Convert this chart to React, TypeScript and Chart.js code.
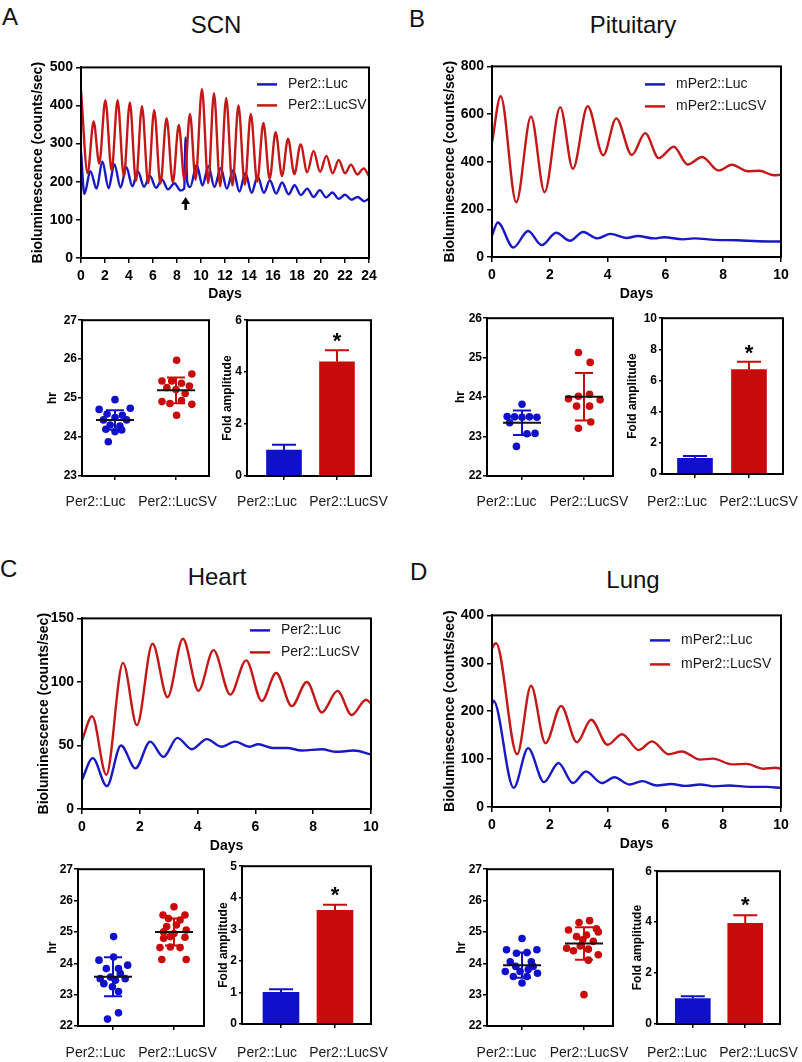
import React, { useEffect, useRef } from "react";
import { Chart, registerables } from "chart.js";
Chart.register(...registerables);

const FONT = "'Liberation Sans', Arial, Helvetica, sans-serif";
const BLUE = "#1818c4";
const RED = "#c41818";
const BLUE_FILL = "#1010cc";
const RED_FILL = "#c80a0a";

// ---------------- DATA ----------------
const groupLabels = ["Per2::Luc", "Per2::LucSV"];

// A - SCN bioluminescence
const scnLucDays = [0, 0.28, 0.78, 1.3, 1.78, 2.3, 2.78, 3.3, 3.78, 4.28, 4.75, 5.25, 5.75, 6.25, 6.75, 7.25, 7.78, 8.3, 8.6, 8.72, 8.85, 9.1, 9.64, 10.12, 10.62, 11.12, 11.65, 12.15, 12.68, 13.2, 13.7, 14.22, 14.72, 15.24, 15.74, 16.26, 16.76, 17.3, 17.8, 18.32, 18.85, 19.38, 19.9, 20.42, 20.95, 21.48, 22.0, 22.55, 23.05, 23.6, 24];
const scnLuc = [280, 168, 228, 182, 253, 183, 246, 185, 238, 188, 227, 187, 215, 184, 206, 180, 196, 177, 182, 316, 200, 186, 245, 190, 241, 186, 236, 182, 230, 174, 223, 171, 214, 171, 204, 169, 198, 167, 191, 165, 182, 160, 178, 159, 172, 155, 166, 153, 160, 149, 156];
const scnLucSVDays = [0, 0.55, 1.05, 1.52, 2.03, 2.55, 3.05, 3.57, 4.07, 4.58, 5.08, 5.6, 6.1, 6.62, 7.13, 7.65, 8.15, 8.62, 9.08, 9.55, 10.08, 10.6, 11.08, 11.6, 12.1, 12.62, 13.12, 13.65, 14.15, 14.68, 15.2, 15.72, 16.22, 16.75, 17.25, 17.78, 18.3, 18.85, 19.38, 19.92, 20.45, 20.97, 21.48, 22.0, 22.5, 23.02, 23.55, 24];
const scnLucSV = [440, 222, 358, 248, 414, 230, 414, 214, 408, 202, 398, 196, 388, 195, 367, 198, 349, 205, 378, 205, 443, 196, 432, 188, 420, 190, 400, 192, 378, 200, 354, 208, 330, 215, 313, 220, 298, 225, 281, 226, 268, 222, 257, 222, 245, 219, 235, 215];
const scnArrowDay = 8.72;
const scnArrowTip = 160;
const scnArrowTail = 126;

const scnPeriodLuc = [24.96, 24.71, 24.74, 24.59, 24.56, 24.44, 24.5, 24.44, 24.31, 24.28, 24.2, 24.18, 23.88, 24.14];
const scnPeriodLucJitter = [0, -0.26, 0.25, -0.13, 0.12, -0.19, 0, 0.19, -0.08, 0.08, -0.15, 0.11, -0.11, 0];
const scnPeriodLucSV = [25.97, 25.62, 25.44, 25.44, 25.38, 25.31, 25.27, 25.22, 25.12, 24.91, 24.86, 24.94, 24.84, 24.56];
const scnPeriodLucSVJitter = [0.01, 0.26, -0.23, -0.07, 0.09, 0.22, -0.15, 0, 0.15, -0.23, -0.1, 0.09, 0.26, 0.01];
const scnPeriodMean = [24.44, 25.2];
const scnPeriodSD = [0.25, 0.33];

const scnAmp = [1.0, 4.4];
const scnAmpErr = [0.2, 0.44];
const scnStar = 5.4;

// B - Pituitary
const pitLucDays = [0, 0.2, 0.74, 1.25, 1.72, 2.22, 2.7, 3.15, 3.65, 4.1, 4.65, 5.05, 5.6, 5.95, 6.6, 7.0, 7.7, 8.5, 9.2, 10];
const pitLuc = [90, 145, 40, 109, 50, 102, 68, 105, 78, 97, 80, 88, 78, 83, 74, 78, 72, 70, 66, 65];
const pitLucSVDays = [0, 0.3, 0.84, 1.35, 1.82, 2.36, 2.8, 3.31, 3.85, 4.3, 4.84, 5.3, 5.77, 6.29, 6.77, 7.27, 7.84, 8.3, 8.85, 9.25, 9.75, 10];
const pitLucSV = [480, 675, 230, 590, 272, 629, 370, 633, 427, 582, 428, 520, 415, 463, 388, 420, 363, 387, 360, 362, 343, 345];

const pitPeriodLuc = [23.82, 23.51, 23.5, 23.49, 23.5, 23.49, 23.07, 23.08, 22.75, 23.35];
const pitPeriodLucJitter = [0, -0.24, -0.12, 0, 0.12, 0.24, 0.08, 0.21, -0.09, -0.2];
const pitPeriodLucSV = [25.13, 24.88, 23.96, 24.02, 24.07, 23.93, 23.77, 23.77, 23.37, 23.21];
const pitPeriodLucSVJitter = [-0.09, 0.1, -0.25, -0.09, 0.09, 0.26, -0.12, 0.09, 0.11, -0.09];
const pitPeriodMean = [23.35, 24.01];
const pitPeriodSD = [0.31, 0.6];

const pitAmp = [1.0, 6.7];
const pitAmpErr = [0.15, 0.5];
const pitStar = 8.1;

// C - Heart
const heartLucDays = [0, 0.37, 0.86, 1.35, 1.85, 2.36, 2.82, 3.3, 3.8, 4.32, 4.82, 5.3, 5.8, 6.1, 6.6, 7.1, 7.6, 8.3, 8.8, 9.4, 10];
const heartLuc = [23, 40, 18, 50, 32, 53, 41, 56, 47, 55, 49, 53, 49, 51, 48, 48, 46, 47, 45, 46, 43];
const heartLucSVDays = [0, 0.35, 0.84, 1.42, 1.9, 2.44, 2.96, 3.49, 4.03, 4.55, 5.13, 5.68, 6.22, 6.72, 7.26, 7.78, 8.3, 8.84, 9.33, 9.83, 10];
const heartLucSV = [54, 73, 27, 115, 66, 130, 88, 134, 93, 125, 90, 117, 85, 107, 81, 100, 76, 93, 74, 86, 83];

const heartPeriodLuc = [24.85, 24.2, 24.1, 23.94, 23.83, 23.83, 23.67, 23.51, 23.56, 23.46, 23.51, 23.35, 23.25, 23.1, 22.42, 22.22];
const heartPeriodLucJitter = [0.01, 0.01, -0.23, 0.24, -0.11, 0.09, 0.12, -0.21, -0.04, 0.04, 0.2, -0.15, -0.01, 0.09, 0.09, -0.09];
const heartPeriodLucSV = [25.8, 25.54, 25.54, 25.43, 25.38, 25.17, 25.22, 25.06, 25.0, 24.95, 24.8, 24.83, 24.85, 24.5, 24.5, 24.52, 24.12, 24.12];
const heartPeriodLucSVJitter = [0, -0.18, 0.18, -0.09, 0.1, -0.12, 0.04, 0.2, -0.17, 0, -0.17, 0.18, -0.06, -0.23, 0.1, -0.06, -0.2, 0.2];
const heartPeriodMean = [23.57, 25.0];
const heartPeriodSD = [0.62, 0.43];

const heartAmp = [1.0, 3.6];
const heartAmpErr = [0.1, 0.18];
const heartStar = 4.25;

// D - Lung
const lungLucDays = [0, 0.05, 0.75, 1.25, 1.8, 2.3, 2.8, 3.25, 3.8, 4.24, 4.75, 5.2, 5.7, 6.2, 6.7, 7.2, 7.7, 8.2, 8.9, 9.5, 10];
const lungLuc = [215, 222, 40, 123, 52, 92, 50, 74, 50, 62, 47, 54, 45, 48, 44, 47, 43, 45, 42, 42, 40];
const lungLucSVDays = [0, 0.06, 0.14, 0.87, 1.35, 1.85, 2.39, 2.94, 3.43, 4.0, 4.5, 5.08, 5.54, 6.11, 6.57, 7.2, 7.65, 8.3, 8.8, 9.4, 9.8, 10];
const lungLucSV = [330, 338, 342, 110, 253, 133, 211, 135, 182, 130, 152, 119, 137, 110, 116, 99, 101, 89, 90, 80, 82, 80];

const lungPeriodLuc = [24.79, 24.43, 24.43, 24.32, 24.34, 24.05, 24.05, 23.9, 23.74, 23.74, 23.68, 23.58, 23.58, 23.37, 23.9, 23.8];
const lungPeriodLucJitter = [0, -0.25, 0.24, -0.09, 0.08, -0.19, 0.15, -0.1, -0.27, -0.03, 0.25, -0.14, 0.08, 0, 0.18, 0.1];
const lungPeriodLucSV = [25.3, 25.36, 25.06, 25.0, 24.85, 24.9, 24.7, 24.48, 24.55, 24.45, 24.4, 24.27, 24.1, 23.0, 25.1, 24.75];
const lungPeriodLucSVJitter = [-0.08, 0.09, -0.25, 0.23, -0.12, 0.04, 0.15, -0.28, -0.06, 0.07, -0.17, 0.23, 0.07, 0, 0.2, -0.02];
const lungPeriodMean = [23.94, 24.63];
const lungPeriodSD = [0.4, 0.52];

const lungAmp = [1.0, 3.95];
const lungAmpErr = [0.09, 0.32];
const lungStar = 4.88;

// ---------------- HELPERS ----------------
type Frame = { l: number; t: number; r: number; b: number; yw: number; xh: number; pt: number; pr: number };

function frameBox(f: Frame) {
  const w = f.r - f.l + f.yw + f.pr;
  const h = f.b - f.t + f.pt + f.xh;
  return { left: f.l - f.yw, top: f.t - f.pt, w, h };
}

const boxPlugin = {
  id: "box",
  afterDatasetsDraw(chart: any) {
    const { ctx, chartArea: a } = chart;
    ctx.save();
    ctx.strokeStyle = "#000";
    ctx.lineWidth = 2;
    ctx.strokeRect(a.left, a.top, a.right - a.left, a.bottom - a.top);
    ctx.restore();
  },
};

function legendPlugin(items: { label: string; color: string }[], x: number, y: number, gap: number) {
  return {
    id: "inLegend",
    afterDraw(chart: any) {
      const { ctx, chartArea } = chart;
      ctx.save();
      items.forEach((it, i) => {
        const yy = chartArea.top + y + i * gap;
        const xx = chartArea.left + x;
        ctx.strokeStyle = it.color;
        ctx.lineWidth = 2.5;
        ctx.beginPath();
        ctx.moveTo(xx, yy);
        ctx.lineTo(xx + 20, yy);
        ctx.stroke();
        ctx.fillStyle = "#1a1a1a";
        ctx.font = `14px ${FONT}`;
        ctx.textBaseline = "middle";
        ctx.textAlign = "left";
        ctx.fillText(it.label, xx + 31, yy);
      });
      ctx.restore();
    },
  };
}

// group names under the box, placed as in the original figure (page x of each label centre)
function groupLabelPlugin(f: Frame, centers: number[], labelY: number) {
  const box = frameBox(f);
  return {
    id: "groupLabels",
    afterDraw(chart: any) {
      const { ctx } = chart;
      ctx.save();
      ctx.fillStyle = "#1a1a1a";
      ctx.font = `14px ${FONT}`;
      ctx.textAlign = "center";
      ctx.textBaseline = "middle";
      groupLabels.forEach((lab, i) => {
        ctx.fillText(lab, centers[i] - box.left, labelY - box.top);
      });
      ctx.restore();
    },
  };
}

function arrowPlugin(day: number, tip: number, tail: number) {
  return {
    id: "arrow",
    afterDatasetsDraw(chart: any) {
      const { ctx, scales } = chart;
      const px = scales.x.getPixelForValue(day);
      const yt = scales.y.getPixelForValue(tip);
      const yb = scales.y.getPixelForValue(tail);
      ctx.save();
      ctx.strokeStyle = "#000";
      ctx.fillStyle = "#000";
      ctx.lineWidth = 2.5;
      ctx.beginPath();
      ctx.moveTo(px, yb);
      ctx.lineTo(px, yt + 5);
      ctx.stroke();
      ctx.beginPath();
      ctx.moveTo(px, yt);
      ctx.lineTo(px - 4.5, yt + 7);
      ctx.lineTo(px + 4.5, yt + 7);
      ctx.closePath();
      ctx.fill();
      ctx.restore();
    },
  };
}

function tickFont(size: number, bold = true) {
  return { family: FONT, size, weight: bold ? "bold" : "normal" };
}

function axisGrid(len: number) {
  return { display: true, drawOnChartArea: false, drawTicks: true, tickLength: len, color: "#000", lineWidth: 1.5 };
}

const axisBorder = { display: true, color: "#000", width: 2 };

type Series = { label: string; days: number[]; values: number[]; color: string; order: number };

function lineConfig(f: Frame, series: Series[], xMax: number, yMax: number, yStep: number, leg: { x: number; y: number; gap: number }, extra: any[] = []) {
  return {
    type: "line",
    data: {
      datasets: series.map((s) => ({
        label: s.label,
        data: s.days.map((d, i) => ({ x: d, y: s.values[i] })),
        borderColor: s.color,
        borderWidth: 2.4,
        pointRadius: 0,
        fill: false,
        cubicInterpolationMode: "monotone",
        order: s.order,
      })),
    },
    options: {
      animation: false,
      responsive: false,
      maintainAspectRatio: false,
      devicePixelRatio: 1,
      layout: { padding: { top: f.pt, right: f.pr, left: 0, bottom: 0 } },
      plugins: { legend: { display: false }, tooltip: { enabled: false } },
      scales: {
        x: {
          type: "linear",
          min: 0,
          max: xMax,
          border: axisBorder,
          grid: axisGrid(5),
          ticks: { stepSize: 2, color: "#000", font: tickFont(14), padding: 4.5, maxRotation: 0, autoSkip: false },
          title: { display: true, text: "Days", color: "#000", font: tickFont(14), padding: 0 },
          afterFit: (s: any) => { s.height = f.xh; },
        },
        y: {
          type: "linear",
          min: 0,
          max: yMax,
          border: axisBorder,
          grid: axisGrid(5),
          ticks: { stepSize: yStep, color: "#000", font: tickFont(14), padding: 3 },
          title: { display: true, text: "Bioluminescence (counts/sec)", color: "#000", font: tickFont(14), padding: 0 },
          afterFit: (s: any) => { s.width = f.yw; },
        },
      },
    },
    plugins: [boxPlugin, legendPlugin(series.map((s) => ({ label: s.label, color: s.color })), leg.x, leg.y, leg.gap), ...extra],
  };
}

function categoryX(f: Frame, xMin: number, xMax: number) {
  return {
    type: "linear",
    min: xMin,
    max: xMax,
    offset: false,
    border: axisBorder,
    grid: { ...axisGrid(4), offset: false },
    afterBuildTicks: (s: any) => { s.ticks = [{ value: 1 }, { value: 2 }]; },
    ticks: { display: false },
    afterFit: (s: any) => { s.height = f.xh; },
  };
}

function scatterConfig(f: Frame, groups: { values: number[]; jitter: number[]; color: string }[], mean: number[], sd: number[], xMin: number, xMax: number, yMin: number, yMax: number, labelCenters: number[], labelY: number) {
  const stats = {
    id: "stats",
    afterDatasetsDraw(chart: any) {
      const { ctx, scales } = chart;
      ctx.save();
      groups.forEach((g, i) => {
        const px = scales.x.getPixelForValue(i + 1);
        const ym = scales.y.getPixelForValue(mean[i]);
        const yu = scales.y.getPixelForValue(mean[i] + sd[i]);
        const yl = scales.y.getPixelForValue(mean[i] - sd[i]);
        ctx.strokeStyle = g.color;
        ctx.lineWidth = 2;
        ctx.beginPath();
        ctx.moveTo(px, yu);
        ctx.lineTo(px, yl);
        ctx.moveTo(px - 9, yu);
        ctx.lineTo(px + 9, yu);
        ctx.moveTo(px - 9, yl);
        ctx.lineTo(px + 9, yl);
        ctx.stroke();
        ctx.strokeStyle = "#111";
        ctx.lineWidth = 2;
        ctx.beginPath();
        ctx.moveTo(px - 19, ym);
        ctx.lineTo(px + 19, ym);
        ctx.stroke();
      });
      ctx.restore();
    },
  };
  return {
    type: "scatter",
    data: {
      datasets: groups.map((g, gi) => ({
        label: groupLabels[gi],
        data: g.values.map((v, i) => ({ x: gi + 1 + g.jitter[i], y: v })),
        backgroundColor: g.color,
        borderWidth: 0,
        pointRadius: 3.8,
      })),
    },
    options: {
      animation: false,
      responsive: false,
      maintainAspectRatio: false,
      devicePixelRatio: 1,
      layout: { padding: { top: f.pt, right: f.pr, left: 0, bottom: 0 } },
      plugins: { legend: { display: false }, tooltip: { enabled: false } },
      scales: {
        x: categoryX(f, xMin, xMax),
        y: {
          type: "linear",
          min: yMin,
          max: yMax,
          border: axisBorder,
          grid: axisGrid(4),
          ticks: { stepSize: 1, color: "#000", font: tickFont(12), padding: 1 },
          title: { display: true, text: "hr", color: "#000", font: tickFont(12), padding: 0 },
          afterFit: (s: any) => { s.width = f.yw; },
        },
      },
    },
    plugins: [boxPlugin, stats, groupLabelPlugin(f, labelCenters, labelY)],
  };
}

function barConfig(f: Frame, values: number[], errs: number[], star: number, xMin: number, xMax: number, yMax: number, yStep: number, labelCenters: number[], labelY: number, thickness: number) {
  const colors = [BLUE_FILL, RED_FILL];
  const err = {
    id: "errs",
    afterDatasetsDraw(chart: any) {
      const { ctx, scales } = chart;
      ctx.save();
      values.forEach((v, i) => {
        const px = scales.x.getPixelForValue(i + 1);
        const ym = scales.y.getPixelForValue(v);
        const yu = scales.y.getPixelForValue(v + errs[i]);
        ctx.strokeStyle = colors[i];
        ctx.lineWidth = 2;
        ctx.beginPath();
        ctx.moveTo(px, ym);
        ctx.lineTo(px, yu);
        ctx.moveTo(px - 12, yu);
        ctx.lineTo(px + 12, yu);
        ctx.stroke();
      });
      const sx = scales.x.getPixelForValue(2);
      const sy = scales.y.getPixelForValue(star);
      ctx.fillStyle = "#000";
      ctx.font = `bold 22px ${FONT}`;
      ctx.textAlign = "center";
      ctx.textBaseline = "alphabetic";
      ctx.fillText("*", sx, sy + 0.57 * 22);
      ctx.restore();
    },
  };
  return {
    type: "bar",
    data: {
      datasets: [
        {
          label: "Fold amplitude",
          data: values.map((v, i) => ({ x: i + 1, y: v })),
          backgroundColor: colors,
          borderWidth: 0,
          barThickness: thickness,
        },
      ],
    },
    options: {
      animation: false,
      responsive: false,
      maintainAspectRatio: false,
      devicePixelRatio: 1,
      layout: { padding: { top: f.pt, right: f.pr, left: 0, bottom: 0 } },
      plugins: { legend: { display: false }, tooltip: { enabled: false } },
      scales: {
        x: categoryX(f, xMin, xMax),
        y: {
          type: "linear",
          min: 0,
          max: yMax,
          border: axisBorder,
          grid: axisGrid(3),
          ticks: { stepSize: yStep, color: "#000", font: tickFont(12), padding: 2 },
          title: { display: true, text: "Fold amplitude", color: "#000", font: tickFont(12), padding: 0 },
          afterFit: (s: any) => { s.width = f.yw; },
        },
      },
    },
    plugins: [boxPlugin, err, groupLabelPlugin(f, labelCenters, labelY)],
  };
}

function ChartCanvas({ frame, make }: { frame: Frame; make: () => any }) {
  const ref = useRef<HTMLCanvasElement | null>(null);
  const s = frameBox(frame);
  useEffect(() => {
    const chart = new Chart(ref.current as HTMLCanvasElement, make());
    return () => chart.destroy();
  }, []);
  return (
    <canvas
      ref={ref}
      width={s.w}
      height={s.h}
      style={{ position: "absolute", left: s.left, top: s.top, width: s.w, height: s.h }}
    />
  );
}

function Txt({ text, x, baseline, center }: { text: string; x: number; baseline: number; center?: boolean }) {
  const style: any = {
    position: "absolute",
    top: baseline - 20.8,
    fontFamily: FONT,
    fontSize: 24,
    lineHeight: "25px",
    color: "#111",
    whiteSpace: "nowrap",
  };
  if (center) {
    style.left = x - 100;
    style.width = 200;
    style.textAlign = "center";
  } else {
    style.left = x;
  }
  return <div style={style}>{text}</div>;
}

// ---------------- FRAMES ----------------
const fLineA: Frame = { l: 81, t: 66, r: 369, b: 258, yw: 51, xh: 45, pt: 10, pr: 16 };
const fLineB: Frame = { l: 492, t: 65, r: 781, b: 257, yw: 50, xh: 46, pt: 10, pr: 16 };
const fLineC: Frame = { l: 82, t: 617, r: 371, b: 809, yw: 46, xh: 46, pt: 10, pr: 16 };
const fLineD: Frame = { l: 492, t: 614, r: 781, b: 807, yw: 50, xh: 46, pt: 10, pr: 16 };

const fScatA: Frame = { l: 82, t: 320, r: 209, b: 476, yw: 37, xh: 45, pt: 8, pr: 36 };
const fBarA: Frame = { l: 247, t: 319, r: 371, b: 476, yw: 27, xh: 45, pt: 8, pr: 36 };
const fScatB: Frame = { l: 487, t: 318, r: 613, b: 476, yw: 34, xh: 45, pt: 8, pr: 36 };
const fBarB: Frame = { l: 662, t: 317, r: 783, b: 474, yw: 37, xh: 47, pt: 8, pr: 36 };
const fScatC: Frame = { l: 78, t: 869, r: 204, b: 1026, yw: 33, xh: 36, pt: 8, pr: 36 };
const fBarC: Frame = { l: 242, t: 865, r: 371, b: 1024, yw: 26, xh: 38, pt: 8, pr: 36 };
const fScatD: Frame = { l: 487, t: 869, r: 613, b: 1026, yw: 33, xh: 36, pt: 8, pr: 36 };
const fBarD: Frame = { l: 657, t: 870, r: 780, b: 1024, yw: 27, xh: 38, pt: 8, pr: 36 };

// page-x centres of the group names under each small chart
const labelsLeftScatter = [95.5, 177.5];
const labelsLeftBar = [267, 348.5];
const labelsRightScatter = [506.5, 589];
const labelsRightBar = [677, 758.5];

export default function App() {
  return (
    <div style={{ position: "absolute", left: 0, top: 0, width: 802, height: 1062, background: "#fff", overflow: "hidden" }}>
      <Txt text="A" x={2} baseline={25} />
      <Txt text="SCN" x={216} baseline={33} center />
      <Txt text="B" x={409} baseline={27} />
      <Txt text="Pituitary" x={633} baseline={33} center />
      <Txt text="C" x={0} baseline={577} />
      <Txt text="Heart" x={217} baseline={585} center />
      <Txt text="D" x={410} baseline={580} />
      <Txt text="Lung" x={633} baseline={588} center />

      <ChartCanvas
        frame={fLineA}
        make={() =>
          lineConfig(
            fLineA,
            [
              { label: "Per2::Luc", days: scnLucDays, values: scnLuc, color: BLUE, order: 2 },
              { label: "Per2::LucSV", days: scnLucSVDays, values: scnLucSV, color: RED, order: 1 },
            ],
            24, 500, 100,
            { x: 176, y: 17, gap: 21 },
            [arrowPlugin(scnArrowDay, scnArrowTip, scnArrowTail)]
          )
        }
      />
      <ChartCanvas
        frame={fLineB}
        make={() =>
          lineConfig(
            fLineB,
            [
              { label: "mPer2::Luc", days: pitLucDays, values: pitLuc, color: BLUE, order: 2 },
              { label: "mPer2::LucSV", days: pitLucSVDays, values: pitLucSV, color: RED, order: 1 },
            ],
            10, 800, 200,
            { x: 153, y: 18, gap: 22 }
          )
        }
      />
      <ChartCanvas
        frame={fLineC}
        make={() =>
          lineConfig(
            fLineC,
            [
              { label: "Per2::Luc", days: heartLucDays, values: heartLuc, color: BLUE, order: 2 },
              { label: "Per2::LucSV", days: heartLucSVDays, values: heartLucSV, color: RED, order: 1 },
            ],
            10, 150, 50,
            { x: 168, y: 12, gap: 22 }
          )
        }
      />
      <ChartCanvas
        frame={fLineD}
        make={() =>
          lineConfig(
            fLineD,
            [
              { label: "mPer2::Luc", days: lungLucDays, values: lungLuc, color: BLUE, order: 2 },
              { label: "mPer2::LucSV", days: lungLucSVDays, values: lungLucSV, color: RED, order: 1 },
            ],
            10, 400, 100,
            { x: 158, y: 25, gap: 24 }
          )
        }
      />

      <ChartCanvas
        frame={fScatA}
        make={() =>
          scatterConfig(
            fScatA,
            [
              { values: scnPeriodLuc, jitter: scnPeriodLucJitter, color: BLUE_FILL },
              { values: scnPeriodLucSV, jitter: scnPeriodLucSVJitter, color: RED_FILL },
            ],
            scnPeriodMean, scnPeriodSD, 0.459, 2.541, 23, 27, labelsLeftScatter, 502
          )
        }
      />
      <ChartCanvas frame={fBarA} make={() => barConfig(fBarA, scnAmp, scnAmpErr, scnStar, 0.302, 2.642, 6, 2, labelsLeftBar, 502, 35)} />

      <ChartCanvas
        frame={fScatB}
        make={() =>
          scatterConfig(
            fScatB,
            [
              { values: pitPeriodLuc, jitter: pitPeriodLucJitter, color: BLUE_FILL },
              { values: pitPeriodLucSV, jitter: pitPeriodLucSVJitter, color: RED_FILL },
            ],
            pitPeriodMean, pitPeriodSD, 0.435, 2.468, 22, 26, labelsRightScatter, 502
          )
        }
      />
      <ChartCanvas frame={fBarB} make={() => barConfig(fBarB, pitAmp, pitAmpErr, pitStar, 0.389, 2.63, 10, 2, labelsRightBar, 502, 35)} />

      <ChartCanvas
        frame={fScatC}
        make={() =>
          scatterConfig(
            fScatC,
            [
              { values: heartPeriodLuc, jitter: heartPeriodLucJitter, color: BLUE_FILL },
              { values: heartPeriodLucSV, jitter: heartPeriodLucSVJitter, color: RED_FILL },
            ],
            heartPeriodMean, heartPeriodSD, 0.426, 2.492, 22, 27, labelsLeftScatter, 1053
          )
        }
      />
      <ChartCanvas frame={fBarC} make={() => barConfig(fBarC, heartAmp, heartAmpErr, heartStar, 0.278, 2.667, 5, 1, labelsLeftBar, 1053, 36)} />

      <ChartCanvas
        frame={fScatD}
        make={() =>
          scatterConfig(
            fScatD,
            [
              { values: lungPeriodLuc, jitter: lungPeriodLucJitter, color: BLUE_FILL },
              { values: lungPeriodLucSV, jitter: lungPeriodLucSVJitter, color: RED_FILL },
            ],
            lungPeriodMean, lungPeriodSD, 0.435, 2.468, 22, 27, labelsRightScatter, 1053
          )
        }
      />
      <ChartCanvas frame={fBarD} make={() => barConfig(fBarD, lungAmp, lungAmpErr, lungStar, 0.317, 2.663, 6, 2, labelsRightBar, 1053, 35)} />
    </div>
  );
}
